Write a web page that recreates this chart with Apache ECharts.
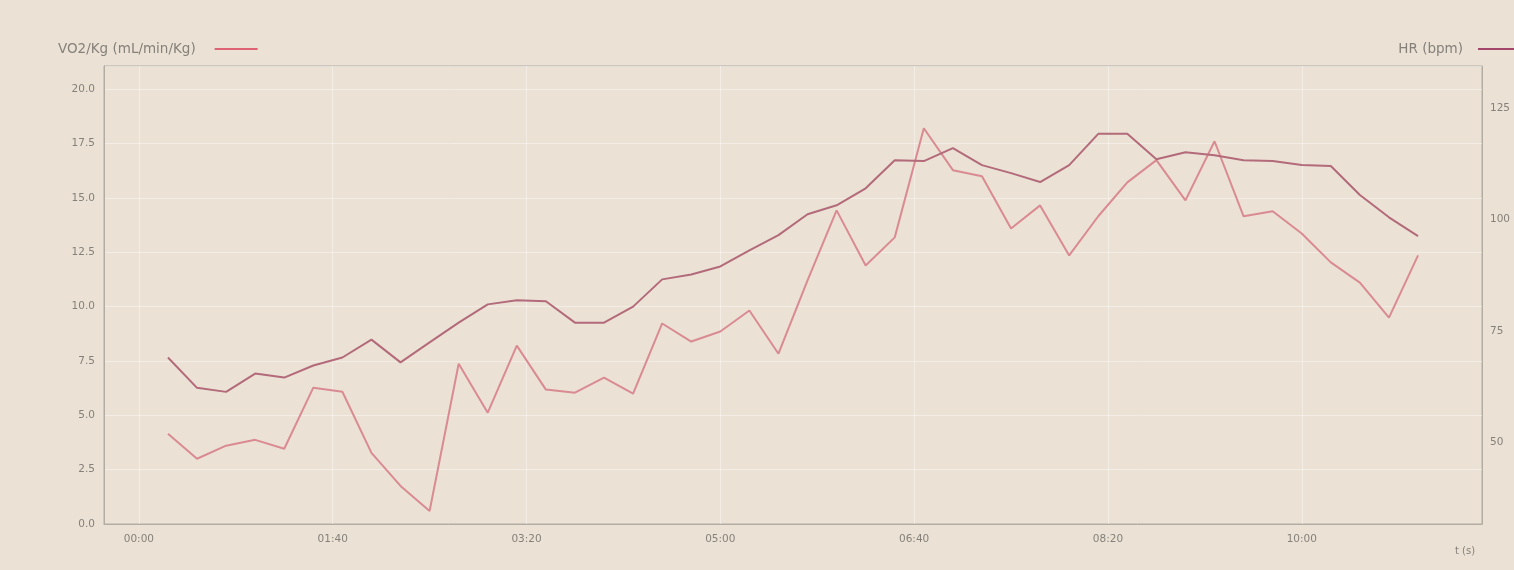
<!DOCTYPE html>
<html>
<head>
<meta charset="utf-8">
<script src="https://cdn.jsdelivr.net/npm/echarts@6/dist/echarts.min.js"></script>
<style>
  html, body { margin: 0; padding: 0; background: #ebe2d5; }
  #chart { width: 1514px; height: 570px; }
</style>
</head>
<body>
<div id="chart"></div>
<script>
// time of each sample, seconds
const times = [15, 30, 45, 60, 75, 90, 105, 120, 135, 150,
  165, 180, 195, 210, 225, 240, 255, 270, 285, 300,
  315, 330, 345, 360, 375, 390, 405, 420, 435, 450,
  465, 480, 495, 510, 525, 540, 555, 570, 585, 600,
  615, 630, 645, 660];

// VO2/Kg (mL/min/Kg)
const vo2 = [4.15, 3.0, 3.6, 3.87, 3.46, 6.27, 6.08, 3.27, 1.75, 0.6,
  7.37, 5.12, 8.2, 6.18, 6.04, 6.73, 6.0, 9.22, 8.39, 8.85,
  9.82, 7.83, 11.2, 14.42, 11.89, 13.18, 18.2, 16.27, 15.99, 13.59,
  14.65, 12.35, 14.15, 15.71, 16.73, 14.88, 17.6, 14.15, 14.38, 13.36,
  12.03, 11.1, 9.49, 12.35];

// HR (bpm)
const hr = [69.1, 62.3, 61.4, 65.5, 64.6, 67.3, 69.1, 73.1, 68.0, 72.5,
  76.9, 81.0, 81.9, 81.7, 76.9, 76.9, 80.5, 86.6, 87.7, 89.5,
  93.1, 96.5, 101.2, 103.2, 107.0, 113.3, 113.1, 116.0, 112.2, 110.4,
  108.4, 112.2, 119.2, 119.2, 113.5, 115.1, 114.4, 113.3, 113.1, 112.2,
  112.0, 105.5, 100.5, 96.3];

const xTicks = [0, 100, 200, 300, 400, 500, 600];
const hrTicks = [50, 75, 100, 125];

const textColor = '#85807a';
const lineColor = '#b3aca3';
const font = '"DejaVu Sans", sans-serif';

const mmss = v => {
    const m = Math.floor(v / 60), s = Math.round(v % 60);
    return String(m).padStart(2, '0') + ':' + String(s).padStart(2, '0');
};

var myChart = echarts.init(document.getElementById('chart'));
myChart.setOption({
    backgroundColor: '#ebe2d5',
    animation: false,
    textStyle: { fontFamily: font },
    legend: [
        {
            left: 53, top: 37,
            align: 'right',
            itemWidth: 43, itemHeight: 2,
            icon: 'rect',
            textStyle: { color: textColor, fontSize: 13.5, fontFamily: font, padding: [0, 14, 0, 0] },
            data: [{ name: 'VO2/Kg (mL/min/Kg)', itemStyle: { color: '#de6475' } }]
        },
        {
            right: -12, top: 37,
            align: 'right',
            itemWidth: 43, itemHeight: 2,
            icon: 'rect',
            textStyle: { color: textColor, fontSize: 13.5, fontFamily: font, padding: [0, 10, 0, 0] },
            data: [{ name: 'HR (bpm)', itemStyle: { color: '#a4466c' } }]
        }
    ],
    grid: {
        left: 104, right: 32, top: 66, bottom: 46,
        show: true,
        borderColor: lineColor,
        borderWidth: 1,
        backgroundColor: 'transparent'
    },
    xAxis: {
        type: 'value',
        min: -18, max: 693,
        axisLine: { show: true, onZero: false, lineStyle: { color: lineColor } },
        axisTick: { show: false, customValues: xTicks },
        axisLabel: {
            customValues: xTicks,
            color: textColor, fontSize: 10.5, margin: 10,
            formatter: mmss
        },
        splitLine: { show: true, lineStyle: { color: 'rgba(255,255,255,0.4)', width: 1 } }
    },
    yAxis: [
        {
            type: 'value',
            min: 0, max: 21.06, interval: 2.5,
            axisLine: { show: true, onZero: false, lineStyle: { color: lineColor } },
            axisTick: { show: false },
            axisLabel: {
                color: textColor, fontSize: 10.5, margin: 9,
                showMaxLabel: false,
                formatter: v => v.toFixed(1)
            },
            splitLine: { show: true, lineStyle: { color: 'rgba(255,255,255,0.4)', width: 1 } }
        },
        {
            type: 'value',
            position: 'right',
            min: 31.8, max: 134.4,
            axisLine: { show: true, onZero: false, lineStyle: { color: lineColor } },
            axisTick: { show: false, customValues: hrTicks },
            axisLabel: {
                customValues: hrTicks,
                color: textColor, fontSize: 10.5, margin: 8
            },
            splitLine: { show: false }
        }
    ],
    series: [
        {
            name: 'VO2/Kg (mL/min/Kg)',
            type: 'line',
            yAxisIndex: 0,
            showSymbol: false,
            lineStyle: { color: '#da8a92', width: 2 },
            itemStyle: { color: '#da8a92' },
            data: times.map((t, i) => [t, vo2[i]])
        },
        {
            name: 'HR (bpm)',
            type: 'line',
            yAxisIndex: 1,
            showSymbol: false,
            lineStyle: { color: '#b36a7a', width: 2 },
            itemStyle: { color: '#b36a7a' },
            data: times.map((t, i) => [t, hr[i]])
        }
    ],
    graphic: [
        {
            type: 'text',
            left: 1455, top: 546,
            style: { text: 't (s)', fill: textColor, font: '10px ' + font }
        }
    ]
});
</script>
</body>
</html>
